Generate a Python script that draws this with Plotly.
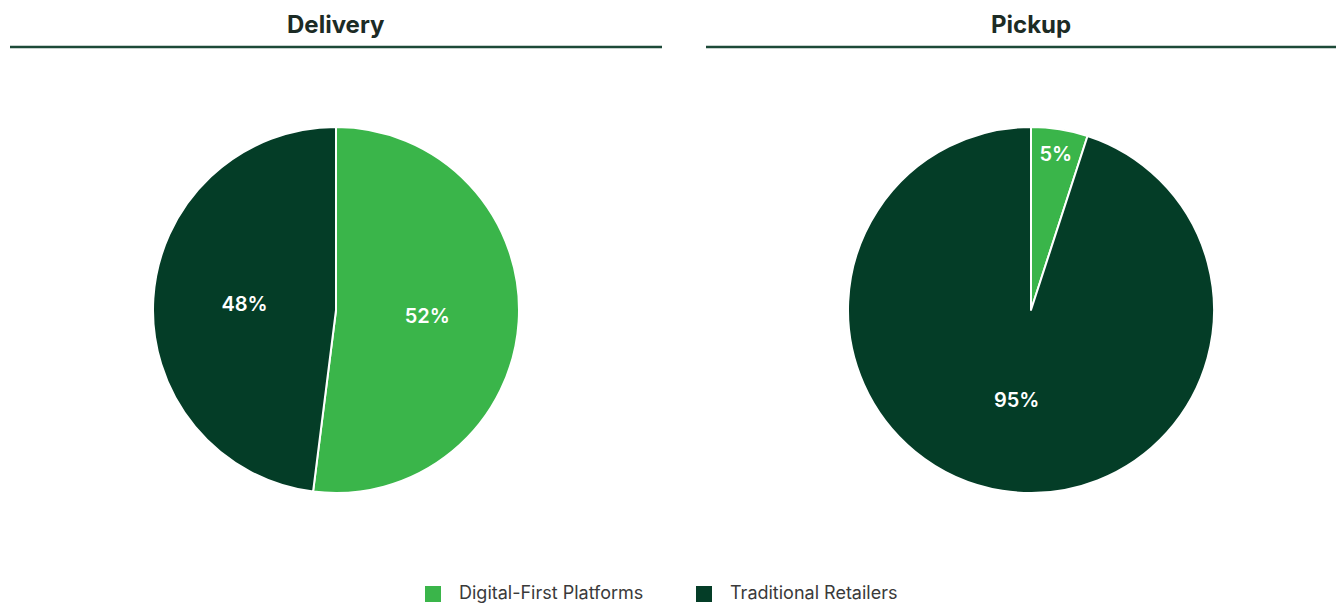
import plotly.graph_objects as go

labels = ["Digital-First Platforms", "Traditional Retailers"]
delivery = [52, 48]
pickup = [5, 95]
panel_titles = ["Delivery", "Pickup"]
colors = ["#3AB54A", "#043D27"]

# page body has an 8px margin, so the plot area starts at (8, 8)
OFF = 8
W, H = 1344 - OFF, 605 - OFF

def px_x(v):
    return (v - OFF) / W

def px_y(v):
    return 1 - (v - OFF) / H

fig = go.Figure()

dom_y = [px_y(493), px_y(127)]
for vals, x0, x1 in [(delivery, 153, 519), (pickup, 848, 1214)]:
    fig.add_trace(go.Pie(
        labels=labels, values=vals, sort=False, direction="clockwise", rotation=0,
        marker=dict(colors=colors, line=dict(color="white", width=2)),
        texttemplate="%{value}%", textposition="inside",
        insidetextorientation="horizontal",
        textfont=dict(color="white", size=20, family="Inter", weight=600),
        domain=dict(x=[px_x(x0), px_x(x1)], y=dom_y),
        showlegend=False, hoverinfo="label+percent",
    ))

# panel titles and rules
for title, cx, x0, x1 in [(panel_titles[0], 336, 10, 662), (panel_titles[1], 1031, 706, 1344)]:
    fig.add_annotation(
        text=title, x=px_x(cx), y=px_y(25), xref="paper", yref="paper",
        showarrow=False, font=dict(size=24, color="#1c2b25", family="Inter", weight=700),
        xanchor="center", yanchor="middle",
    )
    fig.add_shape(
        type="line", xref="paper", yref="paper",
        x0=px_x(x0), x1=px_x(x1), y0=px_y(47), y1=px_y(47),
        line=dict(color="#1d4a38", width=2.5),
    )

# legend drawn by hand so the swatches match the larger squares
for lab, col, sx in zip(labels, colors, [425, 696]):
    fig.add_shape(
        type="rect", xref="paper", yref="paper",
        x0=px_x(sx), x1=px_x(sx + 16), y0=px_y(602), y1=px_y(586),
        fillcolor=col, line=dict(width=0),
    )
    fig.add_annotation(
        text=lab, x=px_x(sx + 33), y=px_y(592), xref="paper", yref="paper",
        showarrow=False, xanchor="left", yanchor="middle",
        font=dict(size=18, color="#3a3a3a", family="Inter"),
        borderpad=0,
    )

fig.update_layout(
    width=W, height=H,
    margin=dict(l=0, r=0, t=0, b=0),
    paper_bgcolor="white",
    plot_bgcolor="white",
    font=dict(family="Inter"),
)

fig.write_html("out.html")
